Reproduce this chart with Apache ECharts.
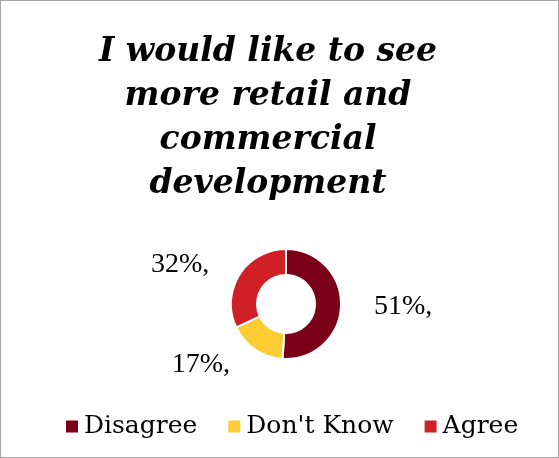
<!DOCTYPE html>
<html>
<head>
<meta charset="utf-8">
<script src="https://cdn.jsdelivr.net/npm/echarts@6/dist/echarts.min.js"></script>
<style>
  html, body { margin: 0; padding: 0; background: #fff; }
  #chart { width: 557px; height: 456px; border: 1px solid #a6a6a6; }
</style>
</head>
<body>
<div id="chart"></div>
<script>
// Survey responses: "I would like to see more retail and commercial development"
const categories = ["Disagree", "Don't Know", "Agree"];
const shares = [51, 17, 32];
const colors = ["#7b0019", "#ffcc33", "#d11f26"];
const titleLines = ["I would like to see", "more retail and", "commercial", "development"];

const chart = echarts.init(document.getElementById('chart'));
chart.setOption({
  animation: false,
  title: {
    text: titleLines.join('\n'),
    left: 262,
    textAlign: 'center',
    top: 24,
    textStyle: {
      fontFamily: 'DejaVu Serif',
      fontStyle: 'italic',
      fontWeight: 'bold',
      fontSize: 33,
      lineHeight: 44,
      color: '#000'
    }
  },
  legend: {
    bottom: 13,
    left: 58,
    itemWidth: 14,
    itemHeight: 14,
    itemGap: 29,
    icon: 'rect',
    textStyle: { fontFamily: 'DejaVu Serif', fontSize: 25, color: '#000' },
    data: categories
  },
  series: [{
    type: 'pie',
    center: [285, 303],
    radius: [29, 55],
    startAngle: 90,
    clockwise: true,
    itemStyle: { borderColor: '#fff', borderWidth: 2 },
    label: {
      show: true,
      position: 'outside',
      formatter: p => p.value + '%,',
      fontFamily: 'Liberation Serif',
      fontSize: 28,
      color: '#000'
    },
    labelLine: { show: false, length: 18, length2: 10 },
    data: categories.map((c, i) => ({ name: c, value: shares[i], itemStyle: { color: colors[i] } }))
  }]
});
</script>
</body>
</html>
